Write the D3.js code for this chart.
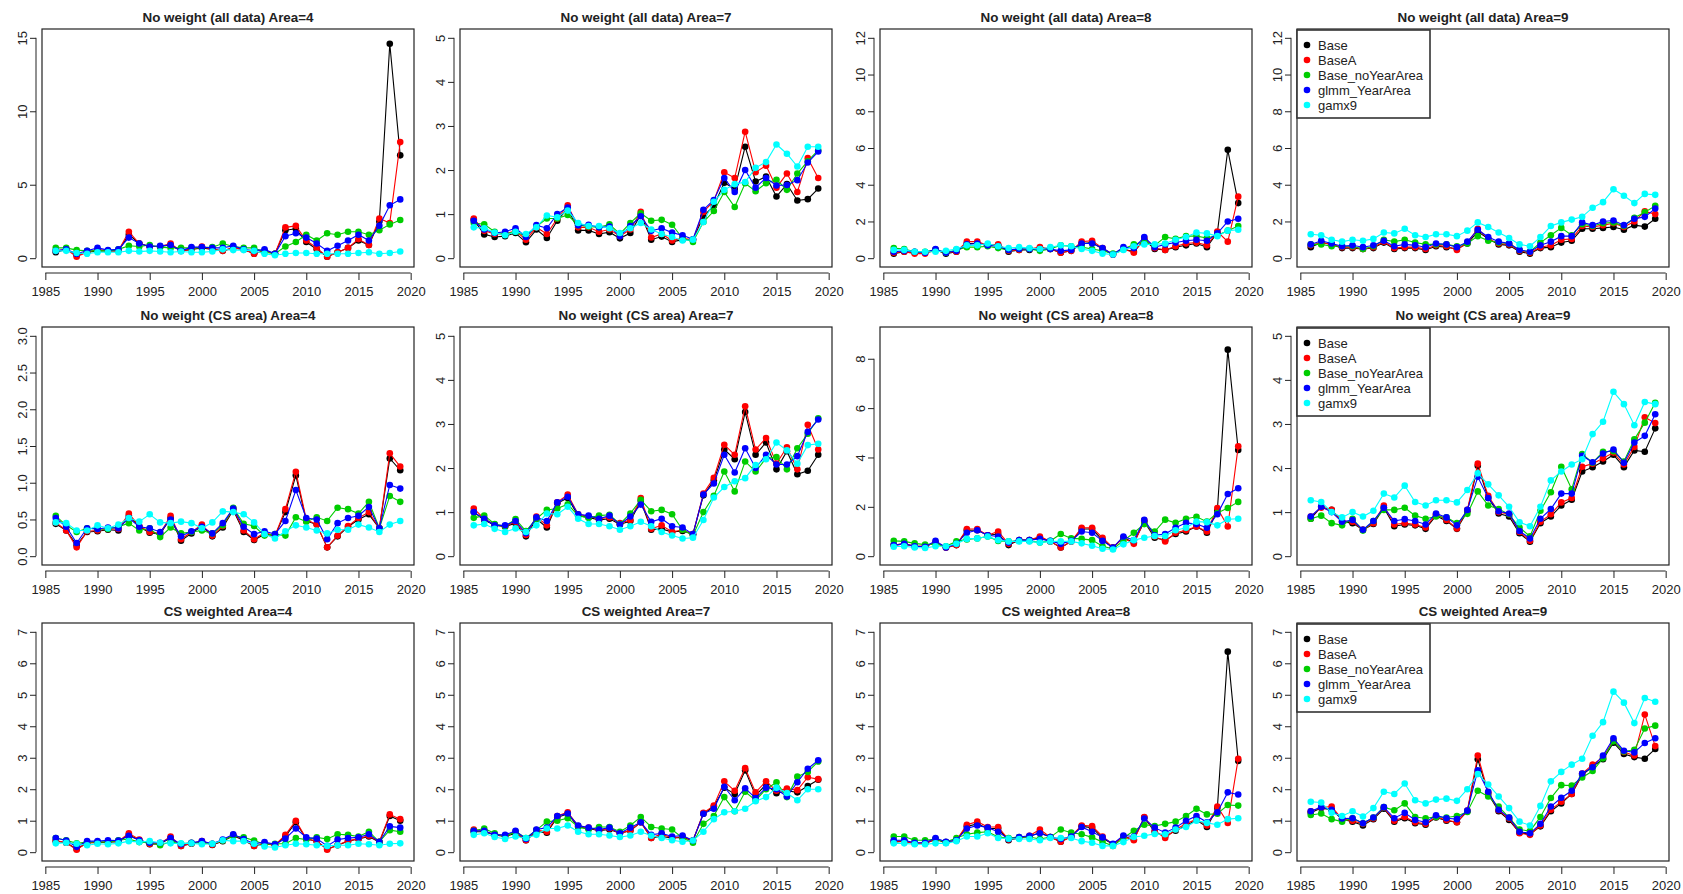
<!DOCTYPE html>
<html><head><meta charset="utf-8">
<script src="https://cdn.jsdelivr.net/npm/d3@7"></script>
<style>body{margin:0;background:#fff} svg{display:block} text{font-family:"Liberation Sans",Arial,Helvetica,sans-serif;fill:#222}</style>
</head><body><svg id="c" width="1683" height="894"></svg>
<script>
const years = [1986,1987,1988,1989,1990,1991,1992,1993,1994,1995,1996,1997,1998,1999,2000,2001,2002,2003,2004,2005,2006,2007,2008,2009,2010,2011,2012,2013,2014,2015,2016,2017,2018,2019];
const seriesNames = ["Base","BaseA","Base_noYearArea","glmm_YearArea","gamx9"];
const seriesColors = ["#000000","#ff0000","#00cd00","#0000ff","#00ffff"];
const panelTitles = ["No weight (all data) Area=4","No weight (all data) Area=7","No weight (all data) Area=8","No weight (all data) Area=9",
  "No weight (CS area) Area=4","No weight (CS area) Area=7","No weight (CS area) Area=8","No weight (CS area) Area=9",
  "CS weighted Area=4","CS weighted Area=7","CS weighted Area=8","CS weighted Area=9"];
const yMax = [15,5,12,12,3,5,8.93,5,7,7,7,7];
const yTicks = [[0,5,10,15],[0,1,2,3,4,5],[0,2,4,6,8,10,12],[0,2,4,6,8,10,12],
  [0,0.5,1,1.5,2,2.5,3],[0,1,2,3,4,5],[0,2,4,6,8],[0,1,2,3,4,5],
  [0,1,2,3,4,5,6,7],[0,1,2,3,4,5,6,7],[0,1,2,3,4,5,6,7],[0,1,2,3,4,5,6,7]];
const xTicks = [1985,1990,1995,2000,2005,2010,2015,2020];

// each panel: rows = Base, BaseA, Base_noYearArea, glmm_YearArea, gamx9
const allData_A4 = [
 [0.4,0.6,0.2,0.4,0.5,0.5,0.5,1.6,1.0,0.8,0.8,0.9,0.5,0.6,0.7,0.6,0.5,0.7,0.6,0.3,0.5,0.3,1.9,2.0,1.1,0.6,0.1,0.4,0.7,1.2,0.9,2.5,14.6,7.0],
 [0.5,0.6,0.1,0.4,0.6,0.5,0.5,1.8,1.0,0.8,0.8,1.0,0.5,0.6,0.8,0.6,0.5,0.7,0.6,0.3,0.5,0.3,2.1,2.2,1.2,0.7,0.1,0.4,0.7,1.3,0.9,2.7,2.4,7.9],
 [0.7,0.7,0.55,0.5,0.5,0.5,0.6,0.85,0.8,0.9,0.75,0.7,0.7,0.7,0.7,0.75,1.0,0.8,0.7,0.7,0.4,0.3,0.8,1.1,1.6,1.2,1.7,1.6,1.8,1.8,1.6,1.9,2.3,2.6],
 [0.5,0.6,0.3,0.5,0.7,0.55,0.6,1.4,1.0,0.8,0.85,0.9,0.5,0.75,0.75,0.7,0.7,0.85,0.6,0.5,0.6,0.3,1.5,1.7,1.4,1.0,0.5,0.85,1.2,1.6,1.2,2.2,3.6,4.0],
 [0.5,0.5,0.35,0.3,0.4,0.4,0.4,0.5,0.45,0.5,0.45,0.4,0.45,0.4,0.4,0.45,0.6,0.55,0.55,0.5,0.3,0.2,0.3,0.35,0.35,0.3,0.3,0.3,0.3,0.35,0.4,0.3,0.35,0.45]];
const allData_A7 = [
 [0.87,0.54,0.48,0.5,0.57,0.36,0.65,0.46,0.85,1.13,0.63,0.63,0.55,0.59,0.45,0.57,0.99,0.42,0.49,0.37,0.42,0.42,0.95,1.19,1.71,1.57,2.53,1.74,1.85,1.4,1.68,1.31,1.34,1.58],
 [0.9,0.62,0.55,0.55,0.62,0.42,0.7,0.55,0.9,1.2,0.7,0.7,0.6,0.65,0.5,0.65,1.05,0.47,0.55,0.4,0.45,0.42,1.05,1.3,1.95,1.82,2.87,1.95,2.1,1.6,1.92,1.5,2.27,1.82],
 [0.8,0.77,0.6,0.55,0.6,0.5,0.72,0.9,0.9,0.98,0.75,0.72,0.7,0.77,0.55,0.8,1.02,0.85,0.87,0.76,0.45,0.37,0.82,1.07,1.5,1.16,1.7,1.52,1.7,1.78,1.55,1.92,2.2,2.45],
 [0.85,0.65,0.57,0.6,0.68,0.48,0.75,0.68,1.0,1.15,0.75,0.76,0.7,0.72,0.5,0.73,0.95,0.62,0.68,0.58,0.52,0.43,1.1,1.32,1.82,1.5,2.0,1.6,1.82,1.65,1.66,1.77,2.17,2.42],
 [0.7,0.68,0.58,0.52,0.6,0.55,0.7,0.97,0.93,1.08,0.8,0.73,0.73,0.68,0.57,0.68,0.8,0.65,0.55,0.48,0.4,0.42,0.82,1.28,1.55,1.68,1.73,2.05,2.18,2.58,2.37,2.08,2.53,2.53]];
const allData_A8 = [
 [0.25,0.35,0.3,0.3,0.45,0.25,0.35,0.8,0.8,0.7,0.7,0.35,0.45,0.45,0.55,0.5,0.3,0.4,0.8,0.85,0.5,0.2,0.5,0.35,1.0,0.5,0.45,0.6,0.7,0.8,0.6,1.4,5.9,3.0],
 [0.3,0.35,0.25,0.25,0.45,0.3,0.35,0.9,0.9,0.7,0.75,0.4,0.45,0.5,0.6,0.5,0.3,0.4,0.9,0.95,0.55,0.2,0.5,0.3,1.1,0.55,0.45,0.65,0.8,0.85,0.7,1.45,0.9,3.35],
 [0.55,0.5,0.35,0.35,0.45,0.3,0.45,0.6,0.6,0.65,0.55,0.45,0.5,0.5,0.4,0.5,0.7,0.65,0.6,0.5,0.4,0.25,0.5,0.75,0.9,0.7,1.15,1.05,1.2,1.2,1.1,1.25,1.5,1.75],
 [0.35,0.4,0.35,0.3,0.5,0.3,0.4,0.75,0.8,0.7,0.65,0.45,0.5,0.5,0.5,0.5,0.4,0.45,0.8,0.8,0.55,0.2,0.6,0.55,1.15,0.6,0.75,0.85,0.95,1.0,0.95,1.35,2.0,2.15],
 [0.45,0.45,0.35,0.35,0.35,0.4,0.5,0.7,0.7,0.8,0.65,0.55,0.6,0.55,0.5,0.6,0.7,0.65,0.5,0.4,0.25,0.2,0.45,0.65,0.75,0.75,0.8,1.0,1.15,1.4,1.35,1.2,1.5,1.55]];
const allData_A9 = [
 [0.6,0.85,0.75,0.55,0.55,0.5,0.55,0.85,0.5,0.55,0.55,0.45,0.65,0.6,0.5,0.8,1.45,1.05,0.75,0.7,0.35,0.25,0.55,0.6,0.85,0.95,1.6,1.6,1.65,1.7,1.55,1.8,1.72,2.15],
 [0.7,0.85,0.75,0.6,0.6,0.5,0.6,0.9,0.55,0.6,0.6,0.5,0.7,0.65,0.45,0.85,1.6,1.05,0.8,0.75,0.4,0.3,0.6,0.7,1.0,1.05,1.75,1.7,1.8,1.9,1.7,2.0,2.55,2.4],
 [0.75,0.75,0.65,0.65,0.65,0.5,0.65,1.0,0.9,1.0,0.85,0.75,0.75,0.75,0.65,0.8,1.2,0.95,0.85,0.8,0.45,0.35,0.85,1.25,1.65,1.25,1.85,1.75,1.9,1.95,1.75,2.2,2.5,2.85],
 [0.75,0.95,0.8,0.65,0.7,0.6,0.7,0.95,0.65,0.75,0.7,0.6,0.8,0.75,0.6,0.9,1.55,1.15,0.9,0.8,0.45,0.35,0.7,0.9,1.2,1.2,1.95,1.8,2.0,2.05,1.8,2.15,2.25,2.7],
 [1.3,1.25,1.0,0.9,1.0,0.95,1.05,1.4,1.35,1.6,1.25,1.15,1.3,1.3,1.2,1.5,1.95,1.7,1.4,1.1,0.75,0.65,1.15,1.75,1.95,2.1,2.25,2.75,3.05,3.75,3.4,3.0,3.5,3.45]];
const csArea_A4 = [
 [0.44,0.35,0.15,0.33,0.34,0.36,0.35,0.55,0.4,0.32,0.3,0.52,0.21,0.31,0.41,0.27,0.39,0.63,0.33,0.22,0.3,0.28,0.6,1.1,0.48,0.43,0.12,0.27,0.4,0.5,0.57,0.38,1.33,1.17],
 [0.46,0.35,0.12,0.34,0.35,0.37,0.37,0.58,0.41,0.33,0.31,0.55,0.23,0.33,0.43,0.28,0.41,0.65,0.35,0.23,0.32,0.28,0.64,1.15,0.5,0.43,0.12,0.28,0.41,0.52,0.6,0.38,1.4,1.22],
 [0.55,0.42,0.33,0.38,0.37,0.37,0.4,0.45,0.35,0.38,0.26,0.39,0.31,0.33,0.35,0.31,0.42,0.66,0.44,0.41,0.28,0.3,0.28,0.53,0.47,0.53,0.48,0.66,0.64,0.58,0.74,0.38,0.82,0.74],
 [0.52,0.4,0.18,0.38,0.37,0.39,0.38,0.52,0.4,0.38,0.33,0.5,0.27,0.34,0.4,0.31,0.45,0.65,0.4,0.3,0.34,0.3,0.48,0.9,0.52,0.5,0.23,0.45,0.52,0.55,0.67,0.38,0.97,0.92],
 [0.46,0.45,0.35,0.35,0.42,0.38,0.43,0.52,0.47,0.57,0.46,0.45,0.47,0.45,0.38,0.46,0.61,0.6,0.57,0.46,0.3,0.24,0.34,0.42,0.39,0.35,0.31,0.36,0.36,0.43,0.39,0.33,0.43,0.48]];
const csArea_A7 = [
 [1.0,0.82,0.7,0.67,0.75,0.45,0.85,0.65,1.2,1.32,0.92,0.88,0.82,0.85,0.72,0.8,1.25,0.6,0.62,0.55,0.57,0.5,1.38,1.72,2.42,2.2,3.27,2.3,2.58,1.97,2.38,1.86,1.94,2.3],
 [1.08,0.85,0.72,0.68,0.78,0.48,0.9,0.7,1.22,1.4,0.95,0.9,0.85,0.88,0.75,0.82,1.32,0.62,0.7,0.55,0.6,0.5,1.42,1.78,2.53,2.3,3.4,2.42,2.68,2.1,2.47,1.97,2.98,2.42],
 [0.87,0.92,0.73,0.68,0.84,0.57,0.85,1.05,1.08,1.18,0.92,0.87,0.92,0.94,0.73,0.97,1.28,1.02,1.05,0.95,0.6,0.47,1.0,1.37,1.92,1.47,2.15,1.92,2.22,2.25,1.97,2.45,2.78,3.13],
 [1.0,0.85,0.7,0.7,0.8,0.52,0.88,0.8,1.22,1.35,0.95,0.92,0.85,0.92,0.72,0.9,1.17,0.78,0.85,0.68,0.65,0.5,1.4,1.65,2.3,1.9,2.45,2.0,2.3,2.08,2.08,2.27,2.82,3.1],
 [0.7,0.73,0.62,0.55,0.63,0.55,0.7,0.97,0.95,1.12,0.85,0.73,0.73,0.68,0.6,0.68,0.78,0.68,0.55,0.47,0.4,0.42,0.82,1.33,1.57,1.7,1.77,2.07,2.2,2.58,2.4,2.1,2.52,2.55]];
const csArea_A8 = [
 [0.45,0.5,0.4,0.4,0.55,0.35,0.45,1.05,1.05,0.85,0.9,0.45,0.65,0.65,0.75,0.6,0.35,0.6,1.1,1.1,0.65,0.35,0.75,0.55,1.4,0.75,0.65,0.9,1.0,1.2,0.95,1.85,8.37,4.3],
 [0.45,0.5,0.4,0.4,0.55,0.35,0.45,1.1,1.1,0.85,1.0,0.5,0.65,0.65,0.8,0.6,0.35,0.6,1.15,1.15,0.75,0.35,0.75,0.5,1.45,0.8,0.6,0.95,1.05,1.2,1.0,1.95,1.2,4.45],
 [0.62,0.6,0.52,0.47,0.5,0.4,0.6,0.68,0.72,0.8,0.62,0.6,0.62,0.62,0.55,0.62,0.9,0.72,0.7,0.65,0.4,0.3,0.62,0.95,1.3,1.0,1.48,1.35,1.52,1.6,1.4,1.75,1.95,2.2],
 [0.45,0.5,0.4,0.38,0.62,0.35,0.5,0.95,1.05,0.85,0.8,0.55,0.65,0.65,0.7,0.62,0.5,0.62,1.0,0.95,0.62,0.35,0.8,0.65,1.47,0.85,0.9,1.15,1.35,1.3,1.15,1.7,2.52,2.75],
 [0.38,0.4,0.35,0.33,0.4,0.4,0.5,0.7,0.72,0.8,0.65,0.6,0.6,0.6,0.55,0.6,0.6,0.6,0.52,0.42,0.3,0.27,0.48,0.65,0.75,0.82,0.82,1.05,1.15,1.4,1.38,1.25,1.5,1.52]];
const csArea_A9 = [
 [0.85,1.12,1.05,0.78,0.75,0.6,0.73,1.1,0.68,0.72,0.7,0.62,0.92,0.8,0.62,1.02,2.05,1.32,0.97,0.9,0.52,0.33,0.75,0.9,1.15,1.28,1.92,2.02,2.15,2.3,2.02,2.4,2.37,2.9],
 [0.9,1.1,1.05,0.8,0.78,0.6,0.75,1.15,0.72,0.75,0.72,0.65,0.95,0.82,0.63,1.05,2.1,1.37,1.0,0.95,0.55,0.35,0.78,0.95,1.22,1.32,2.03,2.1,2.22,2.35,2.08,2.48,3.15,3.02],
 [0.85,0.92,0.75,0.7,0.85,0.58,0.8,1.05,1.05,1.1,0.92,0.85,0.9,0.88,0.75,0.96,1.47,1.15,1.07,0.95,0.65,0.45,1.03,1.45,2.03,1.52,2.32,2.12,2.37,2.38,2.15,2.65,3.03,3.48],
 [0.9,1.12,1.0,0.78,0.82,0.6,0.8,1.1,0.8,0.84,0.8,0.72,0.97,0.88,0.7,1.05,1.8,1.32,1.02,0.97,0.57,0.4,0.85,1.07,1.42,1.42,2.28,2.13,2.33,2.42,2.12,2.58,2.73,3.22],
 [1.27,1.23,1.0,0.88,1.0,0.9,1.03,1.42,1.33,1.6,1.23,1.15,1.27,1.27,1.22,1.5,1.88,1.63,1.38,1.12,0.77,0.68,1.12,1.72,1.92,2.08,2.2,2.77,3.05,3.73,3.45,2.97,3.5,3.45]];
const csWeighted_A4 = [
 [0.35,0.3,0.1,0.3,0.3,0.32,0.33,0.55,0.38,0.25,0.27,0.45,0.2,0.27,0.33,0.23,0.35,0.52,0.38,0.2,0.27,0.22,0.5,0.95,0.42,0.35,0.1,0.22,0.35,0.42,0.5,0.32,1.15,1.0],
 [0.37,0.3,0.08,0.3,0.32,0.33,0.35,0.6,0.4,0.26,0.28,0.5,0.2,0.28,0.35,0.24,0.37,0.55,0.4,0.2,0.28,0.22,0.55,1.0,0.43,0.35,0.08,0.23,0.36,0.43,0.52,0.33,1.2,1.05],
 [0.45,0.38,0.28,0.32,0.33,0.32,0.38,0.42,0.32,0.3,0.22,0.33,0.27,0.3,0.3,0.27,0.37,0.52,0.47,0.37,0.25,0.27,0.27,0.45,0.4,0.47,0.42,0.57,0.55,0.5,0.65,0.33,0.7,0.65],
 [0.45,0.37,0.17,0.35,0.35,0.38,0.37,0.52,0.38,0.3,0.3,0.45,0.25,0.3,0.35,0.27,0.4,0.57,0.42,0.27,0.32,0.25,0.43,0.75,0.47,0.43,0.2,0.4,0.45,0.47,0.57,0.33,0.82,0.78],
 [0.28,0.3,0.27,0.22,0.27,0.25,0.28,0.35,0.32,0.35,0.3,0.28,0.28,0.28,0.25,0.27,0.38,0.35,0.35,0.27,0.18,0.15,0.22,0.27,0.25,0.22,0.2,0.22,0.22,0.27,0.25,0.22,0.27,0.28]];
const csWeighted_A7 = [
 [0.65,0.65,0.55,0.5,0.6,0.38,0.65,0.62,1.1,1.22,0.8,0.75,0.68,0.72,0.6,0.68,0.95,0.45,0.5,0.45,0.47,0.37,1.22,1.45,2.05,1.85,2.6,1.8,2.15,1.87,1.95,1.9,2.1,2.3],
 [0.72,0.68,0.55,0.52,0.65,0.38,0.7,0.65,1.15,1.27,0.83,0.78,0.7,0.75,0.6,0.7,0.95,0.45,0.58,0.45,0.5,0.37,1.25,1.48,2.25,1.95,2.67,1.9,2.25,1.95,2.02,1.97,2.38,2.32],
 [0.68,0.75,0.6,0.5,0.65,0.45,0.7,0.97,1.0,1.08,0.8,0.72,0.8,0.8,0.65,0.85,1.12,0.8,0.75,0.72,0.45,0.3,0.9,1.15,1.75,1.3,1.92,1.65,2.0,2.22,1.75,2.4,2.55,2.88],
 [0.68,0.68,0.55,0.55,0.68,0.42,0.72,0.78,1.15,1.23,0.85,0.78,0.72,0.78,0.6,0.78,0.95,0.55,0.6,0.5,0.53,0.37,1.22,1.38,2.08,1.65,2.03,1.72,2.05,2.0,1.77,2.22,2.65,2.92],
 [0.55,0.6,0.48,0.42,0.5,0.45,0.55,0.75,0.75,0.85,0.65,0.57,0.57,0.53,0.48,0.53,0.65,0.52,0.45,0.38,0.33,0.37,0.65,1.05,1.27,1.3,1.38,1.62,1.75,2.05,1.88,1.65,2.0,2.0]];
const csWeighted_A8 = [
 [0.32,0.35,0.28,0.28,0.4,0.3,0.38,0.82,0.9,0.75,0.75,0.38,0.45,0.5,0.62,0.48,0.33,0.5,0.82,0.78,0.45,0.25,0.5,0.4,1.1,0.65,0.5,0.68,0.85,1.02,0.8,1.4,6.37,2.9],
 [0.35,0.35,0.28,0.28,0.42,0.32,0.38,0.87,0.97,0.8,0.8,0.4,0.45,0.52,0.72,0.48,0.33,0.5,0.85,0.83,0.5,0.25,0.5,0.38,1.12,0.68,0.45,0.72,0.9,1.05,0.85,1.45,0.93,2.97],
 [0.5,0.5,0.38,0.38,0.42,0.32,0.45,0.57,0.62,0.65,0.48,0.45,0.48,0.48,0.42,0.48,0.72,0.62,0.57,0.47,0.32,0.2,0.45,0.68,0.87,0.83,0.9,0.97,1.15,1.38,1.2,1.22,1.5,1.48],
 [0.38,0.38,0.3,0.3,0.45,0.33,0.38,0.75,0.85,0.78,0.65,0.42,0.48,0.52,0.6,0.48,0.42,0.5,0.8,0.65,0.47,0.27,0.53,0.5,1.07,0.78,0.62,0.78,1.0,1.15,0.95,1.27,1.9,1.83],
 [0.28,0.28,0.25,0.25,0.28,0.28,0.35,0.5,0.5,0.6,0.45,0.43,0.42,0.42,0.38,0.45,0.45,0.45,0.35,0.3,0.2,0.2,0.32,0.48,0.52,0.58,0.57,0.72,0.8,1.0,0.93,0.87,1.05,1.08]];
const csWeighted_A9 = [
 [1.25,1.4,1.35,1.05,0.97,0.85,1.05,1.38,0.97,1.08,0.92,0.87,1.1,1.0,0.95,1.3,2.95,1.85,1.3,1.02,0.62,0.57,0.82,1.3,1.55,1.85,2.45,2.72,2.95,3.48,3.12,3.02,2.97,3.28],
 [1.3,1.42,1.45,1.05,1.0,0.9,1.07,1.42,1.0,1.12,0.95,0.9,1.12,1.02,0.95,1.32,3.07,1.9,1.33,1.07,0.6,0.55,0.85,1.35,1.6,1.85,2.5,2.78,3.02,3.55,3.18,3.07,4.37,3.37],
 [1.18,1.23,1.05,0.97,1.08,0.92,1.1,1.43,1.33,1.55,1.12,1.08,1.12,1.1,1.15,1.28,1.95,1.77,1.45,1.1,0.72,0.67,1.12,1.72,2.13,2.12,2.37,2.58,2.98,3.52,3.2,3.25,3.93,4.02],
 [1.3,1.43,1.35,1.07,1.08,0.92,1.1,1.43,1.08,1.25,1.02,0.95,1.17,1.08,1.05,1.32,2.6,1.92,1.35,1.1,0.65,0.6,0.9,1.45,1.73,1.95,2.5,2.7,3.07,3.62,3.22,3.17,3.47,3.62],
 [1.6,1.58,1.25,1.15,1.3,1.13,1.4,1.92,1.85,2.18,1.65,1.55,1.67,1.7,1.63,2.0,2.48,2.15,1.77,1.4,0.97,0.85,1.47,2.25,2.55,2.78,2.97,3.7,4.13,5.1,4.75,4.1,4.9,4.78]];

const panels = [allData_A4, allData_A7, allData_A8, allData_A9,
  csArea_A4, csArea_A7, csArea_A8, csArea_A9,
  csWeighted_A4, csWeighted_A7, csWeighted_A8, csWeighted_A9];

// ---- layout ----
const colLeft = [42, 460, 880, 1297];
const rowTop = [29, 327, 623];
const W = 372, H = 238;
const AX_OFF = 6;
const svg = d3.select("#c");

panels.forEach((pdata, i) => {
  const col = i % 4, row = Math.floor(i / 4);
  const L = colLeft[col], T = rowTop[row];
  const x = d3.scaleLinear().domain([1986 - 0.04*33, 2019 + 0.04*33]).range([L, L + W]);
  const ym = yMax[i];
  const y = d3.scaleLinear().domain([-0.04*ym, ym*1.04]).range([T + H, T]);
  const yt = yTicks[i];
  const g = svg.append("g");

  // title
  g.append("text").attr("x", L + W/2).attr("y", T - 7).attr("text-anchor", "middle")
    .style("font-weight", "bold").style("font-size", "13.4px").text(panelTitles[i]);

  // axes (R-style, detached from box, line spans first..last tick)
  const xa = g.append("g").attr("transform", `translate(0,${T + H + AX_OFF})`)
    .call(d3.axisBottom(x).tickValues(xTicks).tickFormat(d3.format("d")).tickSize(7).tickSizeOuter(0).tickPadding(6.5));
  const ya = g.append("g").attr("transform", `translate(${L - AX_OFF},0)`)
    .call(d3.axisLeft(y).tickValues(yt).tickFormat(i === 4 ? d3.format(".1f") : d3.format("d")).tickSize(6).tickSizeOuter(0));
  xa.select(".domain").remove();
  ya.select(".domain").remove();
  xa.append("line").attr("x1", x(xTicks[0])).attr("x2", x(xTicks[xTicks.length-1])).attr("stroke", "#222");
  ya.append("line").attr("y1", y(yt[0])).attr("y2", y(yt[yt.length-1])).attr("stroke", "#222");
  [xa, ya].forEach(a => {
    a.selectAll(".tick line").attr("stroke", "#222");
    a.selectAll(".tick text").style("font-size", "13px").attr("fill", "#222")
      .style("font-family", '"Liberation Sans",Arial,sans-serif');
  });
  ya.selectAll(".tick text").attr("text-anchor", "middle").attr("x", 0).attr("y", 0).attr("dy", null)
    .attr("transform", "translate(-9,0) rotate(-90)");

  // lines and points
  pdata.forEach((vals, s) => {
    const pts = years.map((yr, k) => [yr, vals[k]]);
    g.append("path").datum(pts)
      .attr("fill", "none").attr("stroke", seriesColors[s]).attr("stroke-width", 1.1)
      .attr("d", d3.line().x(d => x(d[0])).y(d => y(d[1])));
    g.selectAll(null).data(pts).enter().append("circle")
      .attr("cx", d => x(d[0])).attr("cy", d => y(d[1])).attr("r", 3.3)
      .attr("fill", seriesColors[s]);
  });

  // box
  g.append("rect").attr("x", L).attr("y", T).attr("width", W).attr("height", H)
    .attr("fill", "none").attr("stroke", "#222").attr("stroke-width", 1.2);

  // legend on right column
  if (col === 3) {
    const lg = g.append("g");
    lg.append("rect").attr("x", L).attr("y", T + 1).attr("width", 133).attr("height", 88)
      .attr("fill", "#fff").attr("stroke", "#333").attr("stroke-width", 1.6);
    seriesNames.forEach((nm, s) => {
      const cy = T + 16 + s * 15;
      lg.append("circle").attr("cx", L + 10).attr("cy", cy).attr("r", 3.3).attr("fill", seriesColors[s]);
      lg.append("text").attr("x", L + 21).attr("y", cy).attr("dy", "0.36em")
        .style("font-size", "13px").text(nm);
    });
  }
});
</script></body></html>
